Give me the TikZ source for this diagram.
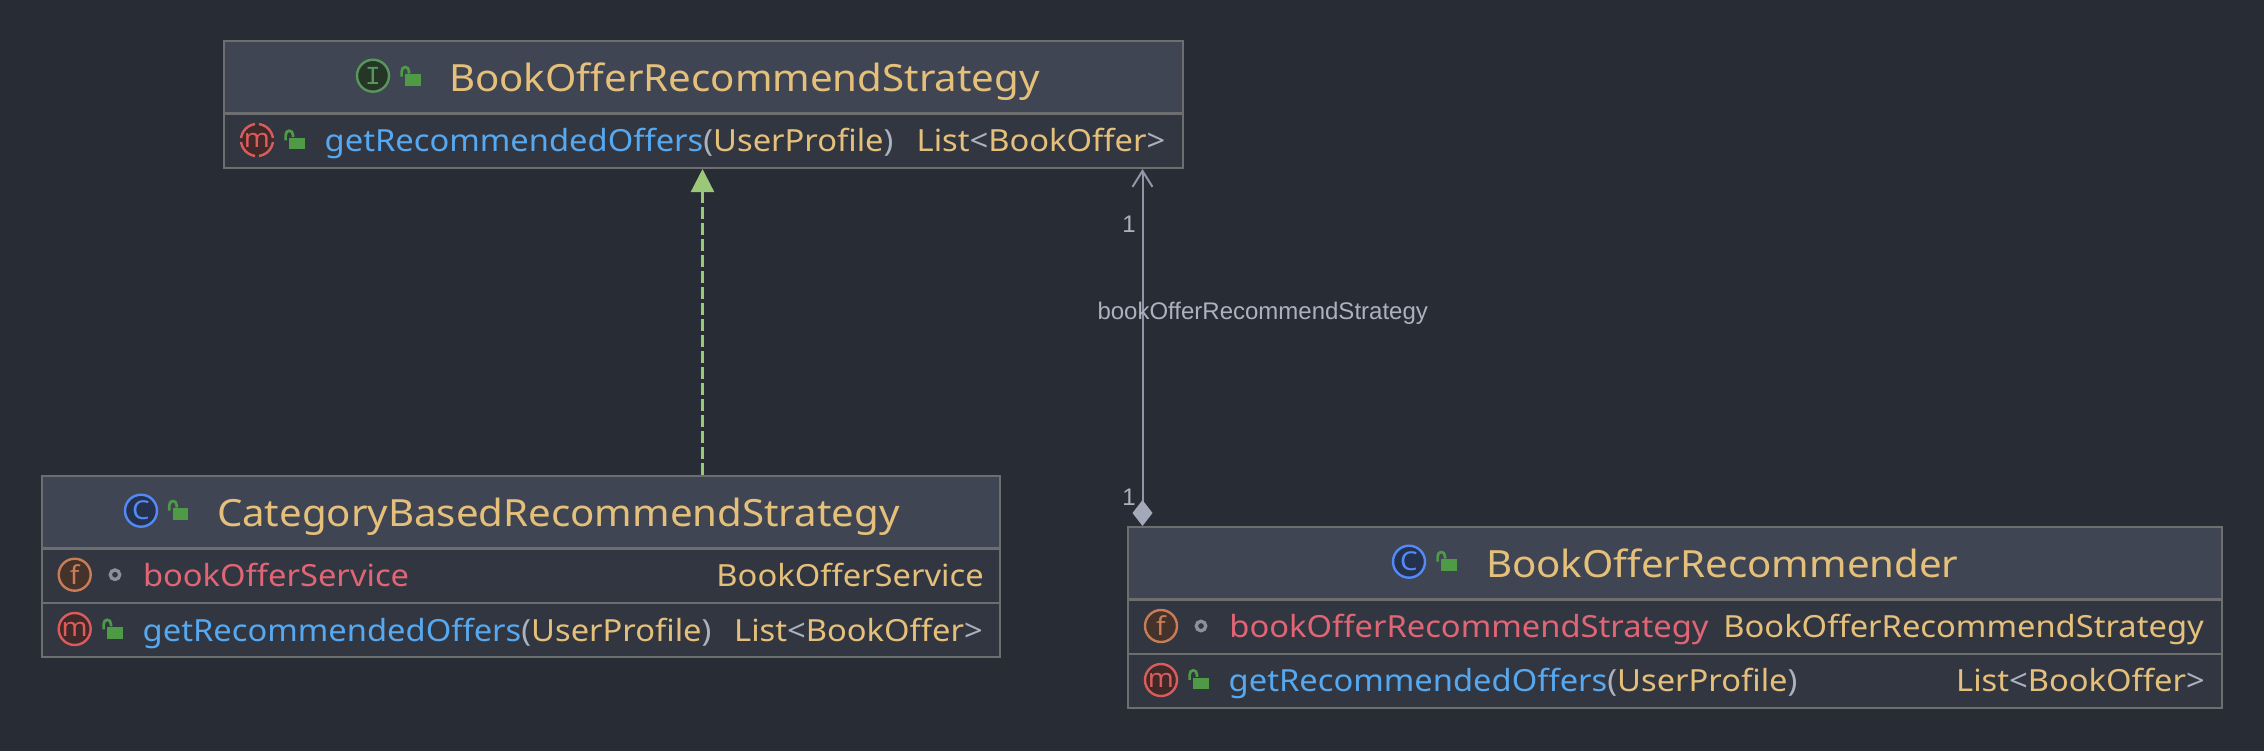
\documentclass[tikz,border=0pt]{standalone}
\usepackage{fontspec}
\setmainfont[FakeStretch=1.072]{Noto Sans}
\newfontfamily\edgefont{Liberation Sans}
\newfontfamily\iconmono{Liberation Mono}
\usetikzlibrary{arrows.meta}
\definecolor{bgdark}{HTML}{282C34}
\definecolor{headfill}{HTML}{3F4552}
\definecolor{rowfill}{HTML}{323641}
\definecolor{boxline}{HTML}{6C6E70}
\definecolor{titlecol}{HTML}{E5C07B}
\definecolor{methodcol}{HTML}{56A8F0}
\definecolor{fieldcol}{HTML}{E06575}
\definecolor{parencol}{HTML}{ABB2BF}
\definecolor{implcol}{HTML}{9BC878}
\definecolor{assoccol}{HTML}{8F96A8}
\definecolor{diamondcol}{HTML}{A3A9B8}
\definecolor{lockcol}{HTML}{4E9A47}
\definecolor{ringI}{HTML}{57965C}
\definecolor{fillI}{HTML}{253627}
\definecolor{ringC}{HTML}{548AF7}
\definecolor{fillC}{HTML}{25324D}
\definecolor{ringF}{HTML}{C77D55}
\definecolor{fillF}{HTML}{45322B}
\definecolor{ringM}{HTML}{DB5C5C}
\definecolor{fillM}{HTML}{402929}
\newcommand{\listtype}{List\textcolor{parencol}{<}BookOffer\textcolor{parencol}{>}}
\newcommand{\methodsig}{\textcolor{methodcol}{getRecommendedOffers}\textcolor{parencol}{(}UserProfile\textcolor{parencol}{)}}
\tikzset{
  classhead/.style={draw=boxline,line width=2pt,fill=headfill,anchor=north west,inner sep=0pt},
  classrow/.style={draw=boxline,line width=2pt,fill=rowfill,anchor=north west,inner sep=0pt},
  titletext/.style={anchor=base west,inner sep=0pt,text=titlecol,font=\fontsize{37.5}{40}\selectfont},
  rowtext/.style={anchor=base west,inner sep=0pt,text=titlecol,font=\fontsize{30.5}{33}\selectfont},
  typetext/.style={rowtext,anchor=base east},
  edgetext/.style={inner sep=0pt,text=parencol,font=\edgefont\fontsize{24}{26}\selectfont},
  icon/.style={circle,line width=2.4pt,inner sep=0pt,outer sep=0pt,minimum size=32pt,font=\fontsize{26}{26}\selectfont},
  iconI/.style={icon,draw=ringI,fill=fillI,text=ringI},
  iconC/.style={icon,draw=ringC,fill=fillC,text=ringC},
  iconF/.style={icon,draw=ringF,fill=fillF,text=ringF},
  iconM/.style={icon,draw=ringM,fill=fillM,text=ringM},
  dotmark/.style={circle,draw=parencol!75!bgdark,line width=3.3pt,inner sep=0pt,outer sep=0pt,minimum size=9.5pt},
  implline/.style={draw=implcol,line width=2.3pt,dash pattern=on 11.7pt off 4.3pt,-{Triangle[length=23pt,width=23pt]}},
  assocline/.style={draw=assoccol,line width=2pt,{Diamond[length=26pt,width=20pt,color=diamondcol]}-{Straight Barb[length=16pt,width=20pt]}},
  openlock/.pic={
    \fill[lockcol] (-7.7,-5.7) rectangle (7.7,5.7);
    \draw[lockcol,line width=2.7pt] (-11.4,-3.4) -- (-11.4,-8.5) .. controls (-11.4,-14.5) and (-4,-14.5) .. (-4,-8.5) -- (-4,-6.5);
  }
}
\begin{document}
\begin{tikzpicture}[x=1pt,y=-1pt]
\useasboundingbox (0,0) rectangle (2264,750);
\fill[bgdark] (-5,-5) rectangle (2270,756);
% interface box
\node[classhead,minimum width=959pt,minimum height=72pt] (stratHead) at (223,40) {};
\node[classrow,minimum width=959pt,minimum height=54pt] (stratRow) at (223,113) {};
\node[iconI] (stratIcon) at (373,75.7) {\iconmono I};
\pic at (413,80) {openlock};
\node[titletext] (stratTitle) at (449,91) {BookOfferRecommendStrategy};
\node[iconM,dash pattern=on 21.1pt off 4pt,dash phase=23.1pt] (stratGetIcon) at (257,140) {m};
\pic at (297,143.7) {openlock};
\node[rowtext] (stratGet) at (324.5,151.7) {\methodsig};
\node[typetext] (stratGetType) at (1165.5,151.7) {\listtype};
% implementing class
\node[classhead,minimum width=958pt,minimum height=72pt] (catHead) at (41,475) {};
\node[classrow,minimum width=958pt,minimum height=54pt] (catField) at (41,548) {};
\node[classrow,minimum width=958pt,minimum height=54pt] (catMethod) at (41,602) {};
\node[iconC] (catIcon) at (141,510.7) {C};
\pic at (180.7,514) {openlock};
\node[titletext] (catTitle) at (216.8,526) {CategoryBasedRecommendStrategy};
\node[iconF] (catFieldIcon) at (74.7,574.7) {f};
\node[dotmark] (catDot) at (115,574.7) {};
\node[rowtext,text=fieldcol] (catFieldName) at (142.8,586.7) {bookOfferService};
\node[typetext] (catFieldType) at (984,586.7) {BookOfferService};
\node[iconM] (catGetIcon) at (74.7,629) {m};
\pic at (115,632.8) {openlock};
\node[rowtext] (catGet) at (142.5,641) {\methodsig};
\node[typetext] (catGetType) at (983,641) {\listtype};
% recommender class
\node[classhead,minimum width=1094pt,minimum height=72pt] (recHead) at (1127,526) {};
\node[classrow,minimum width=1094pt,minimum height=54pt] (recField) at (1127,599) {};
\node[classrow,minimum width=1094pt,minimum height=54pt] (recMethod) at (1127,653) {};
\node[iconC] (recIcon) at (1409,561.7) {C};
\pic at (1449,565) {openlock};
\node[titletext] (recTitle) at (1485.8,577.7) {BookOfferRecommender};
\node[iconF] (recFieldIcon) at (1161,626) {f};
\node[dotmark] (recDot) at (1201,626) {};
\node[rowtext,text=fieldcol] (recFieldName) at (1229.2,637.7) {bookOfferRecommendStrategy};
\node[typetext] (recFieldType) at (2204,637.7) {BookOfferRecommendStrategy};
\node[iconM] (recGetIcon) at (1161,680) {m};
\pic at (1201,683.3) {openlock};
\node[rowtext] (recGet) at (1228.5,691.7) {\methodsig};
\node[typetext] (recGetType) at (2205,691.7) {\listtype};
% connectors
\coordinate (implX) at (702.5,0);
\coordinate (assocX) at (1142.5,0);
\draw[implline] (catHead.north -| implX) -- (stratRow.south -| implX);
\draw[assocline] (recHead.north -| assocX) -- (stratRow.south -| assocX);
\node[edgetext,anchor=base east] (assocTopOne) at (1136,232.3) {1};
\node[edgetext,anchor=base west] (assocLabel) at (1097.3,319.3) {bookOfferRecommendStrategy};
\node[edgetext,anchor=base east] (assocBottomOne) at (1136,505) {1};
\end{tikzpicture}
\end{document}
